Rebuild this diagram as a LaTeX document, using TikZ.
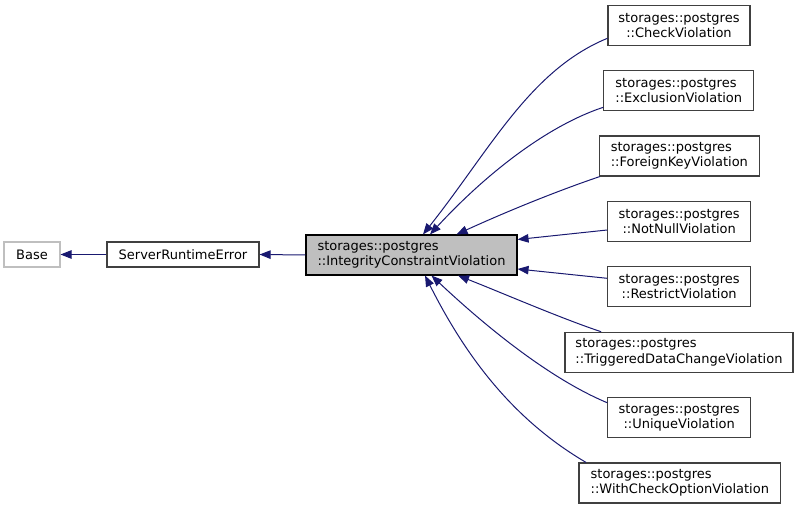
\documentclass[tikz,border=0pt]{standalone}
\usepackage{fontspec}
\setmainfont{DejaVu Sans}
\usetikzlibrary{arrows.meta,calc}
\definecolor{edgeblue}{HTML}{191970}
\definecolor{nodegray}{HTML}{404040}
\definecolor{lightborder}{HTML}{BFBFBF}
\definecolor{fillgray}{HTML}{BFBFBF}
\begin{document}
\begin{tikzpicture}[x=1bp,y=-1bp,
  cls/.style={draw=nodegray, line width=1.1bp, fill=white, inner sep=0pt,
    minimum height=40bp, font=\fontsize{13bp}{15.5bp}\selectfont},
  single/.style={cls, minimum height=25bp},
  inh/.style={draw=edgeblue, line width=1bp, -{Triangle[length=11bp,width=8.5bp]}}
]
\useasboundingbox (0,0) rectangle (799,509);

\node[single, draw=lightborder, minimum width=56bp] (base) at (32,254.5) {Base};
\node[single, minimum width=152bp] (sre) at (183,254.5) {ServerRuntimeError};
\node[cls, draw=black, fill=fillgray, minimum width=211bp, align=left] (icv) at (411.5,255)
  {storages::postgres\\::IntegrityConstraintViolation};

\node[cls, minimum width=142bp, align=center] (check) at (679,25.7)
  {storages::postgres\\::CheckViolation};
\node[cls, minimum width=150bp, align=left] (excl) at (678.8,90.7)
  {storages::postgres\\::ExclusionViolation};
\node[cls, minimum width=160bp, align=left] (fk) at (679.4,156)
  {storages::postgres\\::ForeignKeyViolation};
\node[cls, minimum width=143bp, align=center] (notnull) at (679.2,221.5)
  {storages::postgres\\::NotNullViolation};
\node[cls, minimum width=143bp, align=center] (restrict) at (679.2,286.7)
  {storages::postgres\\::RestrictViolation};
\node[cls, minimum width=228bp, align=left] (trig) at (679,352.3)
  {storages::postgres\\::TriggeredDataChangeViolation};
\node[cls, minimum width=143bp, align=center] (unique) at (679.2,417.7)
  {storages::postgres\\::UniqueViolation};
\node[cls, minimum width=201.7bp, align=left] (wc) at (679.8,483)
  {storages::postgres\\::WithCheckOptionViolation};

\draw[inh] (sre.west) -- (base.east);
\draw[inh] (icv.west) -- (sre.east);

\draw[inh] ($(check.west)+(0,12.6)$) .. controls (530,70) and (490,150) .. ($(icv.north)+(11.5,0)$);
\draw[inh] ($(excl.west)+(0,16.6)$) .. controls (544,127) and (482,178) .. ($(icv.north)+(18.5,0)$);
\draw[inh] ($(fk.south west)+(1,0)$) .. controls (560,190) and (510,210) .. ($(icv.north)+(45,0)$);
\draw[inh] ($(notnull.west)+(0,8.5)$) -- ($(icv.east)+(0,-15.5)$);
\draw[inh] ($(restrict.west)+(0,-8.4)$) -- ($(icv.east)+(0,14)$);
\draw[inh] ($(trig.north west)+(36.7,0)$) .. controls (560,318) and (500,292) .. ($(icv.south)+(46.5,0)$);
\draw[inh] ($(unique.west)+(0,-15)$) .. controls (548,378) and (483,324) .. ($(icv.south)+(20,0)$);
\draw[inh] ($(wc.north west)+(7.7,0)$) .. controls (512,419) and (465,355) .. ($(icv.south)+(13.5,0)$);
\end{tikzpicture}
\end{document}
